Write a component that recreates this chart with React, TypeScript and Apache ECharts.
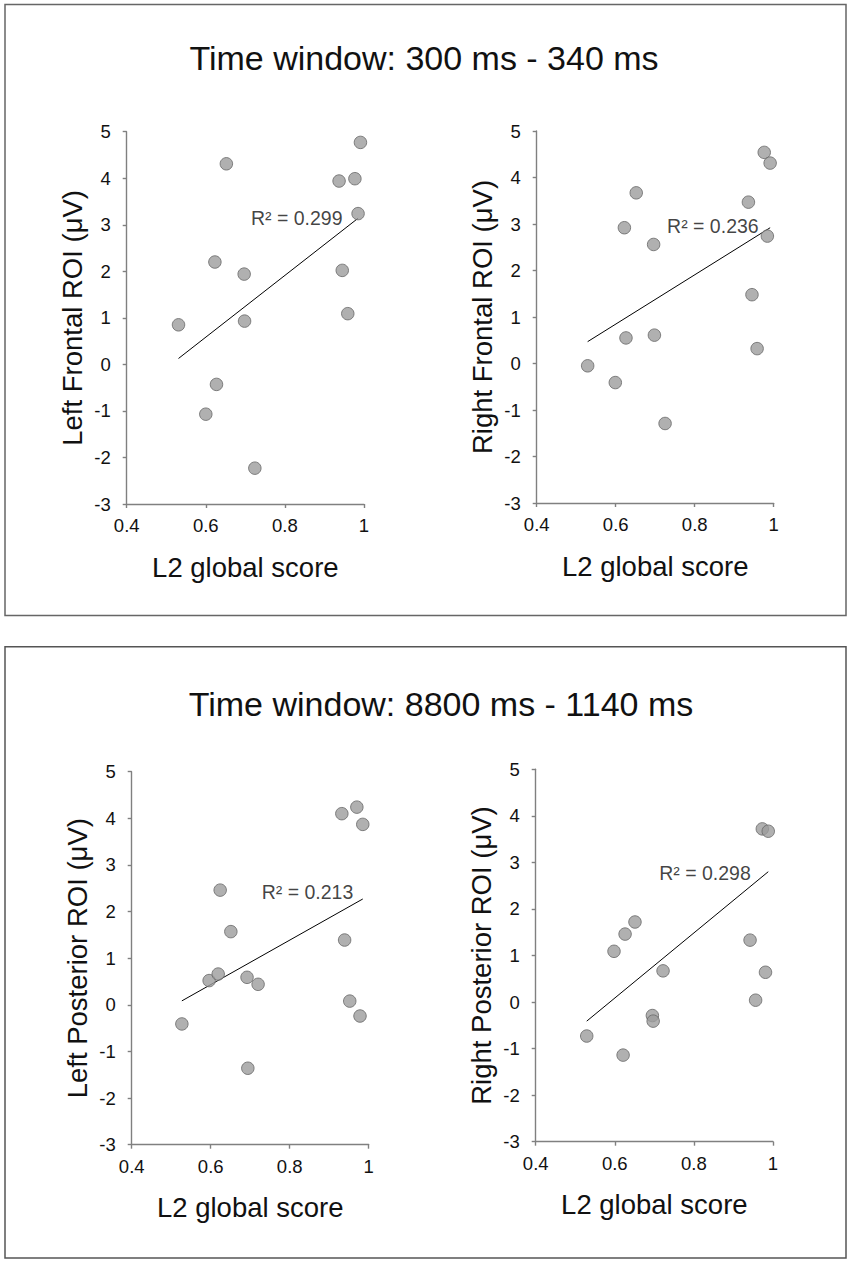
import React, { useEffect, useRef } from "react";
import * as echarts from "echarts";

// ---- data ----
const panelTitles = ["Time window: 300 ms - 340 ms", "Time window: 8800 ms - 1140 ms"];
const xAxisName = "L2 global score";
const yAxisNames = [
  "Left Frontal ROI (μV)",
  "Right Frontal ROI (μV)",
  "Left Posterior ROI (μV)",
  "Right Posterior ROI (μV)",
];

const leftFrontalScore = [0.991, 0.652, 0.937, 0.977, 0.985, 0.623, 0.697, 0.945, 0.531, 0.698, 0.959, 0.627, 0.6, 0.724];
const leftFrontalROI = [4.77, 4.31, 3.94, 3.99, 3.24, 2.2, 1.94, 2.02, 0.85, 0.93, 1.09, -0.43, -1.07, -2.23];

const rightFrontalScore = [0.976, 0.991, 0.652, 0.936, 0.622, 0.696, 0.984, 0.945, 0.626, 0.698, 0.958, 0.529, 0.599, 0.725];
const rightFrontalROI = [4.54, 4.31, 3.67, 3.47, 2.92, 2.56, 2.74, 1.48, 0.55, 0.61, 0.32, -0.05, -0.41, -1.29];

const leftPosteriorScore = [0.932, 0.97, 0.985, 0.624, 0.651, 0.939, 0.596, 0.619, 0.692, 0.72, 0.952, 0.978, 0.527, 0.694];
const leftPosteriorROI = [4.1, 4.24, 3.87, 2.46, 1.57, 1.39, 0.52, 0.66, 0.59, 0.44, 0.08, -0.24, -0.41, -1.36];

const rightPosteriorScore = [0.973, 0.988, 0.651, 0.626, 0.942, 0.598, 0.722, 0.981, 0.956, 0.695, 0.697, 0.529, 0.621];
const rightPosteriorROI = [3.72, 3.67, 1.72, 1.46, 1.33, 1.09, 0.67, 0.64, 0.04, -0.29, -0.41, -0.73, -1.14];

// trend line end points (x, y) as drawn
const trendLeftFrontal = [[0.531, 0.127], [0.985, 3.14]];
const trendRightFrontal = [[0.529, 0.47], [0.991, 2.92]];
const trendLeftPosterior = [[0.527, 0.085], [0.985, 2.27]];
const trendRightPosterior = [[0.529, -0.41], [0.988, 2.8]];

const r2Texts = ["R² = 0.299", "R² = 0.236", "R² = 0.213", "R² = 0.298"];
const r2Anchors = [[0.83, 3.15], [0.846, 2.96], [0.845, 2.42], [0.828, 2.77]];

const xMin = 0.4, xMax = 1, xStep = 0.2;
const yMin = -3, yMax = 5, yStep = 1;

const FONT = "'Liberation Sans', Arial, Helvetica, sans-serif";

export default function App() {
  const ref = useRef<HTMLDivElement>(null);

  useEffect(() => {
    if (!ref.current) return;
    const chart = echarts.init(ref.current, undefined, { renderer: "svg" });

    const scores = [leftFrontalScore, rightFrontalScore, leftPosteriorScore, rightPosteriorScore];
    const rois = [leftFrontalROI, rightFrontalROI, leftPosteriorROI, rightPosteriorROI];
    const trends = [trendLeftFrontal, trendRightFrontal, trendLeftPosterior, trendRightPosterior];

    const grids = [
      { left: 126.7, top: 131.7, width: 237.3, height: 372.3 },
      { left: 536.7, top: 131, width: 237, height: 372 },
      { left: 131.7, top: 771.7, width: 237, height: 373 },
      { left: 535.7, top: 769.3, width: 237.3, height: 372.4 },
    ];

    const axisLine = { show: true, onZero: false, lineStyle: { color: "#808080", width: 1.4 } };
    const axisTick = { show: true, inside: false, length: 4, lineStyle: { color: "#808080", width: 1.4 } };

    const xAxis = grids.map((_, i) => ({
      type: "value",
      gridIndex: i,
      min: xMin,
      max: xMax,
      interval: xStep,
      name: xAxisName,
      nameLocation: "middle",
      nameGap: 49,
      nameTextStyle: { fontFamily: FONT, fontSize: 27.5, color: "#111" },
      axisLine,
      axisTick,
      splitLine: { show: false },
      axisLabel: { fontFamily: FONT, fontSize: 18.5, color: "#111", margin: 12 },
    }));

    const yAxis = grids.map((_, i) => ({
      type: "value",
      gridIndex: i,
      min: yMin,
      max: yMax,
      interval: yStep,
      name: yAxisNames[i],
      nameLocation: "middle",
      nameGap: 40,
      nameTextStyle: { fontFamily: FONT, fontSize: 27.5, color: "#111" },
      axisLine,
      axisTick,
      splitLine: { show: false },
      axisLabel: { fontFamily: FONT, fontSize: 18.5, color: "#111", margin: 16 },
    }));

    const series: any[] = [];
    grids.forEach((_, i) => {
      series.push({
        type: "line",
        xAxisIndex: i,
        yAxisIndex: i,
        data: trends[i],
        symbol: "none",
        lineStyle: { color: "#000", width: 1 },
        z: 1,
        silent: true,
      });
      series.push({
        type: "scatter",
        xAxisIndex: i,
        yAxisIndex: i,
        data: scores[i].map((s, k) => [s, rois[i][k]]),
        symbol: "circle",
        symbolSize: 12.5,
        itemStyle: { color: "#9c9c9c", borderColor: "#666", borderWidth: 1 },
        z: 2,
      });
      series.push({
        type: "scatter",
        xAxisIndex: i,
        yAxisIndex: i,
        data: [r2Anchors[i]],
        symbolSize: 0,
        label: {
          show: true,
          position: "inside",
          formatter: r2Texts[i],
          fontFamily: FONT,
          fontSize: 19.5,
          color: "#111",
        },
        z: 3,
        silent: true,
      });
    });

    chart.setOption({
      animation: false,
      backgroundColor: "#ffffff",
      grid: grids.map((g) => ({ ...g, containLabel: false })),
      xAxis,
      yAxis,
      series,
      graphic: [
        {
          type: "rect",
          shape: { x: 5, y: 4.5, width: 841, height: 611 },
          style: { fill: "none", stroke: "#666", lineWidth: 1.5 },
          silent: true,
        },
        {
          type: "rect",
          shape: { x: 5, y: 646.7, width: 841, height: 611.3 },
          style: { fill: "none", stroke: "#555", lineWidth: 1.5 },
          silent: true,
        },
        {
          type: "text",
          x: 424,
          y: 58,
          style: {
            text: panelTitles[0],
            fontFamily: FONT,
            fontSize: 34,
            fill: "#111",
            align: "center",
            verticalAlign: "middle",
          },
        },
        {
          type: "text",
          x: 441,
          y: 704,
          style: {
            text: panelTitles[1],
            fontFamily: FONT,
            fontSize: 34,
            fill: "#111",
            align: "center",
            verticalAlign: "middle",
          },
        },
      ],
    });

    return () => chart.dispose();
  }, []);

  return (
    <div
      ref={ref}
      style={{ position: "absolute", left: 0, top: 0, width: 851, height: 1264, background: "#fff" }}
    />
  );
}
